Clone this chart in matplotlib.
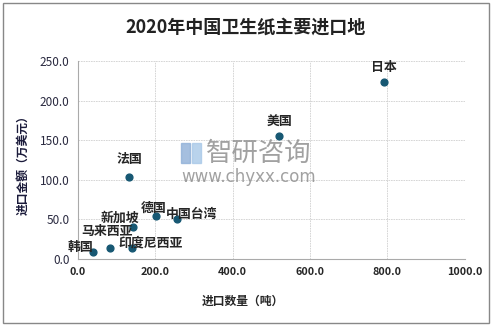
import matplotlib.pyplot as plt
from matplotlib.patches import Rectangle

plt.rcParams['font.family'] = ['Noto Sans CJK SC', 'DejaVu Sans']

# 2020年中国卫生纸主要进口地
regions = ['日本', '美国', '法国', '德国', '中国台湾', '新加坡', '马来西亚', '印度尼西亚', '韩国']
qty = [792, 521, 133, 203, 257, 142, 82, 140, 38]          # 进口数量（吨）
amount = [223.6, 154.7, 103.0, 53.8, 50.0, 40.7, 13.5, 13.5, 8.4]  # 进口金额（万美元）
# label offsets in pixels (dx, dy) relative to each point
offsets = [(0, 15), (0, 15), (0, 18), (-3, 9), (14, 5), (-13, 9), (-3, 17), (19, 6), (-12, 5)]

x_ticks = [0, 200, 400, 600, 800, 1000]
y_ticks = [0, 50, 100, 150, 200, 250]

fig = plt.figure(figsize=(4.96, 3.29), dpi=100)
fig.patches.append(Rectangle((3 / 496, 6 / 329), 486 / 496, 320 / 329, transform=fig.transFigure,
                             fill=False, edgecolor='#888888', linewidth=1.0))
ax = fig.add_axes([0.157, 0.2128, 0.78, 0.6018])

ax.scatter(qty, amount, s=24, color='#175873', zorder=3)
for name, x, y, (dx, dy) in zip(regions, qty, amount, offsets):
    ax.annotate(name, (x, y), xytext=(dx, dy), textcoords='offset pixels',
                ha='center', va='center', fontsize=9.3, fontweight='bold', color='#262626', zorder=4)

ax.set_xlim(0, 1000)
ax.set_ylim(0, 250)
ax.set_xticks(x_ticks)
ax.set_yticks(y_ticks)
ax.set_xticklabels([f'{v:.1f}' for v in x_ticks], fontsize=7.8, fontweight='bold', color='#262626')
ax.set_yticklabels([f'{v:.1f}' for v in y_ticks], fontsize=8.5, color='#2a2a40')
ax.tick_params(length=0, pad=6)
ax.grid(True, color='#d0d0d0', linestyle=(0, (2, 1)), linewidth=0.6)
ax.set_axisbelow(True)
for s in ['top', 'right']:
    ax.spines[s].set_visible(False)
for s in ['left', 'bottom']:
    ax.spines[s].set_color('#aaaaaa')

ax.set_xlabel('进口数量（吨）', fontsize=8.5, fontweight='bold', color='#262626')
ax.xaxis.set_label_coords((243 - 78) / 387, -0.18)
ax.set_ylabel('进口金额（万美元）', fontsize=8.5, fontweight='bold', color='#1a1a3a')
ax.yaxis.set_label_coords(-0.125, 0.49)
fig.text(0.494, 0.918, '2020年中国卫生纸主要进口地', ha='center', va='center',
         fontsize=13, fontweight='bold', color='#222222')

# watermark
fig.patches.append(Rectangle((181 / 496, 1 - 163 / 329), 9 / 496, 20 / 329, transform=fig.transFigure,
                             color='#8fb0d8', alpha=0.8))
fig.patches.append(Rectangle((192 / 496, 1 - 163 / 329), 9 / 496, 20 / 329, transform=fig.transFigure,
                             color='#a8c8e8', alpha=0.8))
fig.text(206 / 496, 1 - 153 / 329, '智研咨询', ha='left', va='center', fontsize=19, color='#8a8a8a', alpha=0.8)
fig.text(181 / 496, 1 - 177 / 329, 'www.chyxx.com', ha='left', va='center', fontsize=12,
         color='#8a8a8a', alpha=0.8, family='DejaVu Sans')

fig.savefig('out.png', dpi=100)
